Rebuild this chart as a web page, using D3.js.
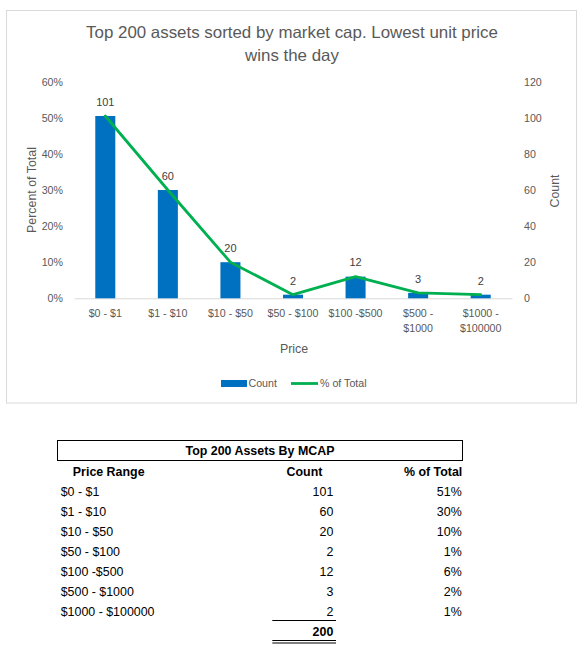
<!DOCTYPE html>
<html><head><meta charset="utf-8">
<script src="https://cdn.jsdelivr.net/npm/d3@7"></script>
<style>
body{margin:0;background:#fff}
svg{display:block}
text{font-family:"Liberation Sans",Arial,sans-serif}
</style>
</head><body>
<svg id="c" width="585" height="661"></svg>
<script>
// ---------- data ----------
const categories = ["$0 - $1","$1 - $10","$10 - $50","$50 - $100","$100 -$500","$500 - $1000","$1000 - $100000"];
const counts = [101,60,20,2,12,3,2];
const pctOfTotal = [0.505,0.30,0.10,0.01,0.06,0.015,0.01];
const tablePct = ["51%","30%","10%","1%","6%","2%","1%"];
const pctTicks = [0,0.1,0.2,0.3,0.4,0.5,0.6];
const countTicks = [0,20,40,60,80,100,120];
const totalCount = 200;
const titleLines = ["Top 200 assets sorted by market cap. Lowest unit price","wins the day"];
const seriesNames = ["Count","% of Total"];
const tableTitle = "Top 200 Assets By MCAP";
const tableHeaders = ["Price Range","Count","% of Total"];

const BAR = "#0070c0", LINE = "#00b050", GREY = "#595959";
const FONT = '"Liberation Sans",Arial,sans-serif';
const TFONT = 'Lato,"Liberation Sans",sans-serif';
const svg = d3.select("#c");
svg.append("rect").attr("width",585).attr("height",661).attr("fill","#fff");

function fit(text, weight, target, family){
  const t = svg.append("text").attr("font-size",100).attr("font-weight",weight)
    .attr("font-family",family||FONT).text(text);
  const w = t.node().getComputedTextLength(); t.remove();
  return 100*target/w;
}

// ---------- chart frame ----------
svg.append("rect").attr("x",6.5).attr("y",10.5).attr("width",570).attr("height",392.5)
  .attr("fill","#fff").attr("stroke","#d9d9d9").attr("stroke-width",1);

// title
const titleSize = fit(titleLines[0], 300, 412, TFONT);
svg.append("g").selectAll("text").data(titleLines).join("text")
  .attr("x",292).attr("y",(d,i)=>32.3+22.7*i).attr("dy","0.35em")
  .attr("text-anchor","middle").attr("font-size",titleSize).attr("font-weight",300)
  .attr("font-family",TFONT).attr("fill",GREY).text(d=>d);

// scales
const x = d3.scaleBand().domain(categories).range([74,512]).paddingInner(0.68).paddingOuter(0.34);
const yTop = 81.7, yBot = 298.3;
const yP = d3.scaleLinear().domain([0,0.6]).range([yBot,yTop]);
const yC = d3.scaleLinear().domain([0,120]).range([yBot,yTop]);

const tickSize = fit("$50 - $100", 400, 51);

function styleAxis(g){
  g.attr("font-family",FONT).attr("font-size",tickSize);
  g.selectAll("text").attr("fill",GREY);
}

// left axis
const gL = svg.append("g").attr("transform","translate(74,0)")
  .call(d3.axisLeft(yP).tickValues(pctTicks).tickFormat(d3.format(".0%")).tickSize(0).tickPadding(11));
gL.select(".domain").remove();
styleAxis(gL);

// right axis
const gR = svg.append("g").attr("transform","translate(512,0)")
  .call(d3.axisRight(yC).tickValues(countTicks).tickSize(0).tickPadding(12));
gR.select(".domain").remove();
styleAxis(gR);

// bottom axis
const gB = svg.append("g").attr("transform",`translate(0,${yBot})`)
  .call(d3.axisBottom(x).tickSize(0).tickPadding(0));
styleAxis(gB);
gB.select(".domain").attr("stroke","#d9d9d9").attr("stroke-width",1);
gB.selectAll("text")
  .each(function(d){
    const t = d3.select(this);
    const w = this.getComputedTextLength();
    let lines = [d];
    if (w > 58 && d.indexOf(" - ") > 0) {
      const k = d.indexOf(" - ");
      lines = [d.slice(0,k+2), d.slice(k+3)];
    }
    t.text(null).attr("y",0).attr("dy",null);
    lines.forEach((s,i)=>{
      t.append("tspan").attr("x",0).attr("y",15+14.6*i).attr("dy","0.35em").text(s);
    });
  });

// axis titles
const axTitleSize = fit("Percent of Total", 400, 86);
svg.append("text").attr("transform","translate(31.7,190) rotate(-90)")
  .attr("text-anchor","middle").attr("dy","0.35em").attr("font-size",axTitleSize)
  .attr("fill",GREY).text("Percent of Total");
svg.append("text").attr("transform","translate(555,191) rotate(-90)")
  .attr("text-anchor","middle").attr("dy","0.35em").attr("font-size",axTitleSize)
  .attr("fill",GREY).text("Count");
svg.append("text").attr("x",294).attr("y",349).attr("dy","0.35em")
  .attr("text-anchor","middle").attr("font-size",axTitleSize).attr("fill",GREY).text("Price");

// bars
const rows = categories.map((c,i)=>({c, n:counts[i], p:pctOfTotal[i]}));
svg.append("g").selectAll("rect").data(rows).join("rect")
  .attr("x",d=>x(d.c)).attr("width",x.bandwidth())
  .attr("y",d=>yC(d.n)).attr("height",d=>yBot-yC(d.n)).attr("fill",BAR);

// line
const line = d3.line().x(d=>x(d.c)+x.bandwidth()/2).y(d=>yP(d.p));
svg.append("path").datum(rows).attr("d",line).attr("fill","none")
  .attr("stroke",LINE).attr("stroke-width",2.8).attr("stroke-linejoin","round").attr("stroke-linecap","round");

// data labels
svg.append("g").selectAll("text").data(rows).join("text")
  .attr("x",d=>x(d.c)+x.bandwidth()/2).attr("y",d=>yC(d.n)-14).attr("dy","0.35em")
  .attr("text-anchor","middle").attr("font-size",tickSize*1.03).attr("fill","#404040")
  .text(d=>d.n);

// legend
const lg = svg.append("g");
lg.append("rect").attr("x",221).attr("y",380).attr("width",26).attr("height",7).attr("fill",BAR);
lg.append("text").attr("x",248.5).attr("y",383.5).attr("dy","0.35em").attr("font-size",tickSize)
  .attr("fill",GREY).text(seriesNames[0]);
lg.append("line").attr("x1",291).attr("x2",318).attr("y1",383.5).attr("y2",383.5)
  .attr("stroke",LINE).attr("stroke-width",2.8);
lg.append("text").attr("x",320).attr("y",383.5).attr("dy","0.35em").attr("font-size",tickSize)
  .attr("fill",GREY).text(seriesNames[1]);

// ---------- table ----------
const tSize = fit("$1000 - $100000", 400, 94);
const tb = svg.append("g").attr("font-size",tSize).attr("fill","#000");
tb.append("rect").attr("x",57.5).attr("y",440.5).attr("width",405).attr("height",20)
  .attr("fill","none").attr("stroke","#000").attr("stroke-width",1);
tb.append("text").attr("x",260).attr("y",450.7).attr("dy","0.35em").attr("text-anchor","middle")
  .attr("font-weight","bold").text(tableTitle);
tb.append("text").attr("x",108.7).attr("y",471.7).attr("dy","0.35em").attr("text-anchor","middle")
  .attr("font-weight","bold").text(tableHeaders[0]);
tb.append("text").attr("x",304.5).attr("y",471.7).attr("dy","0.35em").attr("text-anchor","middle")
  .attr("font-weight","bold").text(tableHeaders[1]);
tb.append("text").attr("x",462.3).attr("y",471.7).attr("dy","0.35em").attr("text-anchor","end")
  .attr("font-weight","bold").text(tableHeaders[2]);

const rowY = d3.scaleLinear().domain([0,1]).range([491.7,511.7]);
const tr = tb.selectAll("g.row").data(rows).join("g").attr("class","row")
  .attr("transform",(d,i)=>`translate(0,${rowY(i)})`);
tr.append("text").attr("x",60.7).attr("dy","0.35em").text(d=>d.c);
tr.append("text").attr("x",333.3).attr("dy","0.35em").attr("text-anchor","end").text(d=>d.n);
tr.append("text").attr("x",461.7).attr("dy","0.35em").attr("text-anchor","end").text((d,i)=>tablePct[i]);

tb.append("line").attr("x1",272.3).attr("x2",336).attr("y1",620.5).attr("y2",620.5).attr("stroke","#000");
tb.append("text").attr("x",333.3).attr("y",rowY(categories.length)).attr("dy","0.35em")
  .attr("text-anchor","end").attr("font-weight","bold").text(totalCount);
tb.append("line").attr("x1",272.3).attr("x2",336).attr("y1",640.5).attr("y2",640.5).attr("stroke","#000");
tb.append("line").attr("x1",272.3).attr("x2",336).attr("y1",643).attr("y2",643).attr("stroke","#000");
</script>
</body></html>
